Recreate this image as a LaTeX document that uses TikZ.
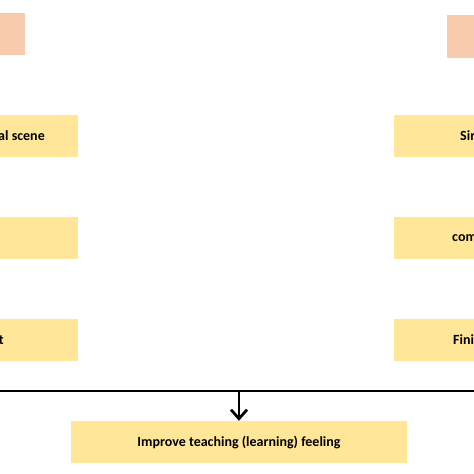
\documentclass[tikz,border=0pt]{standalone}
\usepackage{fontspec}
\setmainfont{Carlito}
\usetikzlibrary{arrows.meta}
\definecolor{boxyellow}{HTML}{FFE699}
\definecolor{boxpink}{HTML}{F8CBAD}
\tikzset{
  ybox/.style={fill=boxyellow, draw=none},
  pbox/.style={fill=boxpink, draw=none},
  lbl/.style={font=\fontsize{14pt}{16pt}\selectfont\bfseries, inner sep=0pt, text=black},
  conn/.style={line width=2.8pt, black},
}
\begin{document}
\begin{tikzpicture}[x=1pt,y=-1pt]
\useasboundingbox (0,0) rectangle (474,474);
\clip (0,0) rectangle (474,474);
% pink boxes
\fill[pbox] (-10,13) rectangle (25,55);
\fill[pbox] (447,15) rectangle (484,58);
% left yellow boxes
\fill[ybox] (-10,115) rectangle (78,157);
\fill[ybox] (-10,217) rectangle (78,259);
\fill[ybox] (-10,319) rectangle (78,361);
% right yellow boxes
\fill[ybox] (394,115) rectangle (484,157);
\fill[ybox] (394,217) rectangle (484,259);
\fill[ybox] (394,319) rectangle (484,361);
% labels (cut by the picture edge, as in the reference)
\node[lbl, anchor=east] (l1) at (45,136) {al scene};
\node[lbl, anchor=east] (l3) at (4,340) {t};
\node[lbl, anchor=west] (r1) at (460,136) {Sir};
\node[lbl, anchor=west] (r2) at (452,238) {com};
\node[lbl, anchor=west] (r3) at (453,340) {Fini};
% bottom box
\node[ybox, minimum width=336pt, minimum height=42pt, inner sep=0pt] (bottom) at (239,442) {};
\node[lbl] (btext) at (bottom.center) {Improve teaching (learning) feeling};
% horizontal bus line and arrow
\coordinate (busL) at (0,391);
\coordinate (busR) at (474,391);
\coordinate (busM) at (239,391);
\draw[conn] (busL) -- (busR);
\draw[conn, -{Straight Barb[length=9pt,width=16pt,line width=2.8pt]}] (busM) -- (bottom.north);
\end{tikzpicture}
\end{document}
